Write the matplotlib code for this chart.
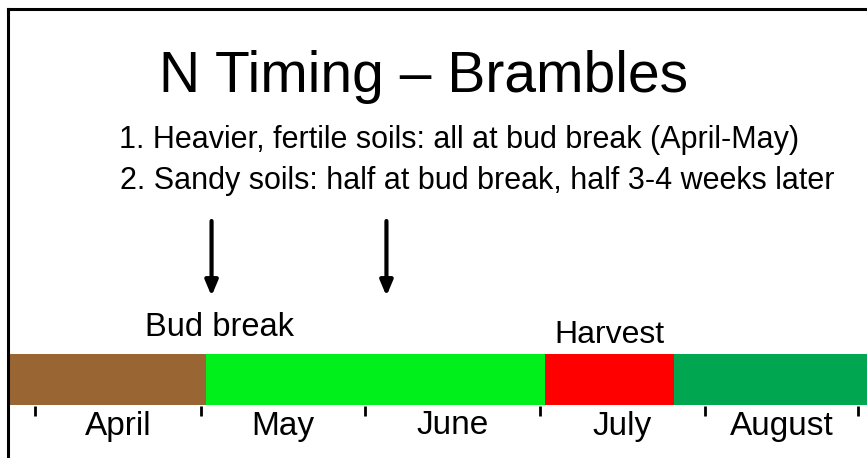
import matplotlib
matplotlib.use("Agg")
import matplotlib.pyplot as plt
from matplotlib.lines import Line2D

plt.rcParams['font.family'] = ['Liberation Sans', 'DejaVu Sans']

# Data (x in months; 0 = start of April)
title = "N Timing \u2013 Brambles"
notes = ["1. Heavier, fertile soils: all at bud break (April-May)",
         "2. Sandy soils: half at bud break, half 3-4 weeks later"]
months = ["April", "May", "June", "July", "August"]
month_ticks = [0.0, 1.006, 2.0, 3.06, 4.06, 4.99]
stage_starts = [-0.155, 1.036, 3.09, 3.87]
stage_ends = [1.036, 3.09, 3.87, 5.10]
stage_colors = ["#996633", "#00F01C", "#FF0000", "#00A650"]
arrow_x = [1.07, 2.13]
stage_labels = ["Bud break", "Harvest"]
stage_label_x = [1.118, 3.48]

W, H = 867, 458
fig = plt.figure(figsize=(W / 100, H / 100), dpi=100)
ax = fig.add_axes([0, 0, 1, 1])
x0 = -35 / 165
ax.set_xlim(x0, x0 + W / 165)
ax.set_ylim(H, 0)
ax.axis("off")


def px(x):
    return x0 + x / 165


# border (left and top visible)
fig.add_artist(Line2D([8 / W, 8 / W], [0, 1 - 9 / H], color="black", lw=2.2,
                      transform=fig.transFigure))
fig.add_artist(Line2D([8 / W, 1], [1 - 9 / H, 1 - 9 / H], color="black", lw=2.2,
                      transform=fig.transFigure))

# title & notes
ax.text(px(423.5), 77, title, fontsize=41, ha="center", va="center")
ax.text(px(119), 140, notes[0], fontsize=22, ha="left", va="center")
ax.text(px(120), 181, notes[1], fontsize=22, ha="left", va="center")

for s, e, c in zip(stage_starts, stage_ends, stage_colors):
    ax.barh(379.5, e - s, left=s, height=51, color=c, edgecolor="none")

for t in month_ticks:
    ax.plot([t, t], [406, 416], color="black", lw=2, solid_capstyle="butt")

for i, m in enumerate(months):
    ax.text((month_ticks[i] + month_ticks[i + 1]) / 2, 426, m, fontsize=24,
            ha="center", va="center")

for xa in arrow_x:
    ax.annotate("", xy=(xa, 296), xytext=(xa, 221),
                arrowprops=dict(arrowstyle="-|>,head_width=0.38,head_length=0.9",
                                color="black", lw=3, shrinkA=0, shrinkB=0))

ax.text(stage_label_x[0], 327, stage_labels[0], fontsize=23.5, ha="center", va="center")
ax.text(stage_label_x[1], 335, stage_labels[1], fontsize=23, ha="center", va="center")

fig.savefig("out.png", dpi=100)
